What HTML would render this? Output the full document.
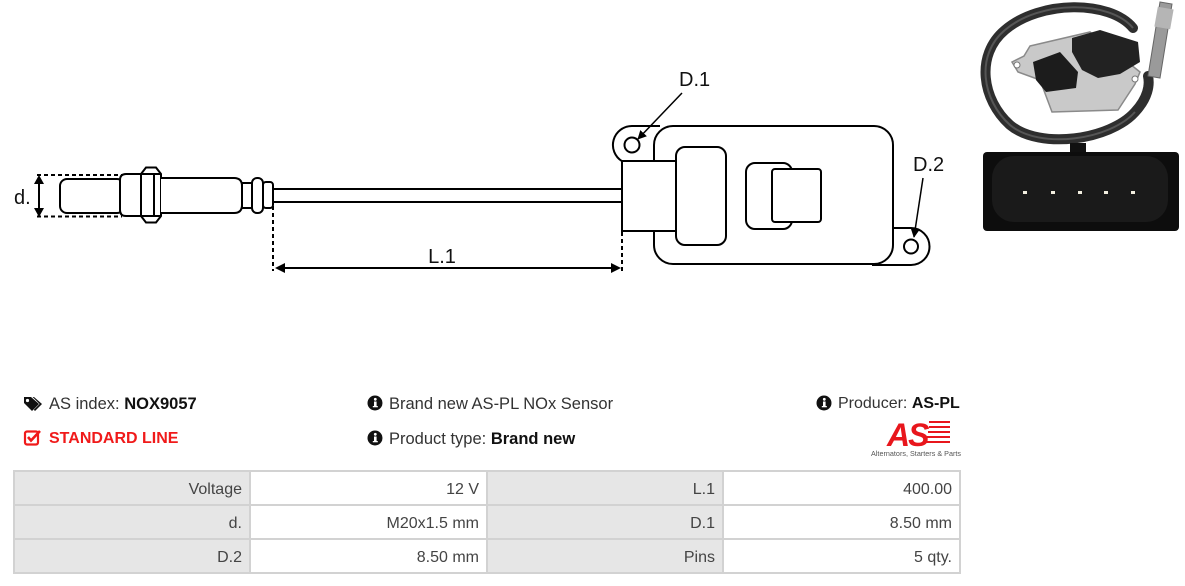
<!DOCTYPE html>
<html>
<head>
<meta charset="utf-8">
<style>
  html,body{margin:0;padding:0;background:#fff;}
  body{width:1185px;height:586px;position:relative;overflow:hidden;font-family:"Liberation Sans",Arial,sans-serif;}
  .t{position:absolute;font-size:16.5px;line-height:20px;color:#333;white-space:nowrap;}
  .t b{color:#111;}
  .cell{position:absolute;height:32px;line-height:35px;font-size:16px;color:#444;text-align:right;box-sizing:border-box;padding-right:7px;}
  .g{background:#e6e6e6;}
  .w{background:#fff;}
</style>
</head>
<body>
<svg width="1185" height="360" style="position:absolute;left:0;top:0" xmlns="http://www.w3.org/2000/svg">
  <defs>
    <marker id="ah" viewBox="0 0 10 10" refX="9" refY="5" markerWidth="9" markerHeight="9" markerUnits="userSpaceOnUse" orient="auto">
      <path d="M0 0 L10 5 L0 10 z" fill="#000"/>
    </marker>
  </defs>
  <g fill="none" stroke="#000" stroke-width="2">
    <path d="M37 175 H122 M37 216.5 H122" stroke-dasharray="4 3"/>
    <line x1="39" y1="177" x2="39" y2="215"/>
    <path d="M39 175 L34 184 L44 184 Z M39 217 L34 208 L44 208 Z" fill="#000" stroke="none"/>
    <rect x="60" y="179" width="64" height="34" rx="7" fill="#fff"/>
    <path d="M141 174 H126 Q120 174 120 180 V210 Q120 216 126 216 H141" fill="#fff"/>
    <path d="M141 174 L146 167.5 H156 L161 174 V216 L156 222.5 H146 L141 216 Z" fill="#fff"/>
    <path d="M141 174 H161 M141 216 H161 M154 174 V216"/>
    <path d="M161 178 H234 Q242 178 242 186 V205 Q242 213 234 213 H161" fill="#fff"/>
    <rect x="242" y="183" width="10" height="25" fill="#fff"/>
    <rect x="252" y="178" width="11" height="35" rx="5" fill="#fff"/>
    <rect x="263" y="182" width="10" height="26" rx="3" fill="#fff"/>
    <path d="M273 189 H622 M273 202 H622"/>
    <path d="M273 206 V271 M622 232 V271" stroke-dasharray="4 3"/>
    <line x1="284" y1="268" x2="612" y2="268"/>
    <path d="M275 268 L285 263 L285 273 Z M621 268 L611 263 L611 273 Z" fill="#000" stroke="none"/>
    <rect x="654" y="126" width="239" height="138" rx="19" fill="#fff"/>
    <path d="M660 126 H632 A19 19 0 0 0 622 161.2" fill="none"/>
    <path d="M893 228 H911 A18.5 18.5 0 0 1 911 265 H872" fill="none"/>
    <circle cx="632" cy="145" r="7.5" fill="#fff"/>
    <circle cx="911" cy="246.5" r="7" fill="#fff"/>
    <rect x="622" y="161" width="56" height="70" fill="#fff"/>
    <rect x="676" y="147" width="50" height="98" rx="9" fill="#fff"/>
    <rect x="746" y="163" width="46" height="66" rx="9" fill="#fff"/>
    <rect x="772" y="169" width="49" height="53" rx="3" fill="#fff"/>
    <line x1="682" y1="93" x2="638" y2="139" stroke-width="1.5" marker-end="url(#ah)"/>
    <line x1="923" y1="178" x2="914" y2="237" stroke-width="1.5" marker-end="url(#ah)"/>
  </g>
  <g font-family="Liberation Sans, Arial, sans-serif" font-size="20" fill="#111">
    <text x="14" y="204">d.</text>
    <text x="442" y="263" text-anchor="middle">L.1</text>
    <text x="679" y="86">D.1</text>
    <text x="913" y="171">D.2</text>
  </g>

  <!-- top photo -->
  <g>
    <path d="M1133 28 C1110 0 1040 0 1005 30 C975 55 982 100 1010 125 C1040 150 1110 140 1135 112 C1148 98 1150 85 1148 76" fill="none" stroke="#2e2e2e" stroke-width="10" stroke-linecap="round"/>
    <path d="M1133 28 C1110 0 1040 0 1005 30 C975 55 982 100 1010 125 C1040 150 1110 140 1135 112" fill="none" stroke="#555" stroke-width="2"/>
    <path d="M1030 46 L1090 32 L1125 60 L1140 72 L1135 84 L1118 110 L1052 112 L1040 80 L1018 72 L1012 62 L1024 56 Z" fill="#c9c9c9" stroke="#8a8a8a" stroke-width="1.5"/>
    <circle cx="1017" cy="65" r="3" fill="#fff" stroke="#777"/>
    <circle cx="1135" cy="79" r="3" fill="#fff" stroke="#777"/>
    <path d="M1033 62 L1060 52 L1078 72 L1076 88 L1046 92 L1036 80 Z" fill="#1c1c1c"/>
    <path d="M1072 38 L1100 30 L1138 42 L1140 62 L1120 74 L1098 78 L1082 70 L1072 52 Z" fill="#222"/>
    <path d="M1160 2 L1172 4 L1160 78 L1148 76 Z" fill="#9a9a9a" stroke="#666" stroke-width="1"/>
    <rect x="1156" y="8" width="16" height="20" fill="#b5b5b5" transform="rotate(10 1164 18)"/>
  </g>
  <!-- connector photo -->
  <g>
    <rect x="1070" y="143" width="16" height="12" fill="#111"/>
    <rect x="983" y="152" width="196" height="79" rx="4" fill="#0d0d0d"/>
    <rect x="992" y="156" width="176" height="66" rx="22" fill="#1a1a1a"/>
    <g fill="#f2eee0">
      <rect x="1023" y="191" width="4" height="3"/>
      <rect x="1051" y="191" width="4" height="3"/>
      <rect x="1078" y="191" width="4" height="3"/>
      <rect x="1104" y="191" width="4" height="3"/>
      <rect x="1131" y="191" width="4" height="3"/>
    </g>
  </g>
</svg>

<svg width="1185" height="75" style="position:absolute;left:0;top:392" xmlns="http://www.w3.org/2000/svg">
  <path d="M24 5 H31 L39 12 L32 19 L24 11 Z" fill="#111"/>
  <circle cx="27.5" cy="8.5" r="1.6" fill="#fff"/>
  <path d="M34 5 L42 12 L35 19 L33.8 17.8 L39.6 12 L32.6 5 Z" fill="#111"/>
  <rect x="25" y="39.5" width="13" height="13" rx="2" fill="none" stroke="#f01a1a" stroke-width="2.2"/>
  <path d="M28 45 L31 48.5 L40 39" fill="none" stroke="#f01a1a" stroke-width="2.6"/>
  <g>
    <circle cx="375" cy="11" r="7.5" fill="#111"/>
    <circle cx="375" cy="46" r="7.5" fill="#111"/>
    <circle cx="824" cy="11" r="7.5" fill="#111"/>
  </g>
  <g fill="#fff">
    <circle cx="375.3" cy="7.3" r="1.4"/><rect x="374" y="9.5" width="2.6" height="5.5"/><rect x="372.8" y="14" width="5" height="1.3"/>
    <circle cx="375.3" cy="42.3" r="1.4"/><rect x="374" y="44.5" width="2.6" height="5.5"/><rect x="372.8" y="49" width="5" height="1.3"/>
    <circle cx="824.3" cy="7.3" r="1.4"/><rect x="823" y="9.5" width="2.6" height="5.5"/><rect x="821.8" y="14" width="5" height="1.3"/>
  </g>
  <text x="887" y="54" font-family="Liberation Sans, Arial, sans-serif" font-size="32" font-weight="bold" font-style="italic" fill="#e8161c" letter-spacing="-2">AS</text>
  <g stroke="#e8161c" stroke-width="2">
    <path d="M929 30 H950 M929 35 H950 M928 40 H950 M927 45 H950 M926 50 H950"/>
  </g>
  <text x="871" y="64" font-family="Liberation Sans, Arial, sans-serif" font-size="7.2" fill="#555" textLength="90">Alternators, Starters &amp; Parts</text>
</svg>

<div class="t" style="left:49px;top:394px;">AS index: <b>NOX9057</b></div>
<div class="t" style="left:49px;top:429px;color:#f01a1a;font-weight:bold;font-size:16px;">STANDARD LINE</div>
<div class="t" style="left:389px;top:394px;">Brand new AS-PL NOx Sensor</div>
<div class="t" style="left:389px;top:429px;">Product type: <b>Brand new</b></div>
<div class="t" style="left:838px;top:394px;font-size:16px;">Producer: <b>AS-PL</b></div>

<div style="position:absolute;left:13px;top:470px;width:948px;height:104px;background:#d2d2d2;"></div>
<div class="cell g" style="left:15px;top:472px;width:234px;">Voltage</div>
<div class="cell w" style="left:251px;top:472px;width:235px;">12 V</div>
<div class="cell g" style="left:488px;top:472px;width:234px;">L.1</div>
<div class="cell w" style="left:724px;top:472px;width:235px;">400.00</div>

<div class="cell g" style="left:15px;top:506px;width:234px;">d.</div>
<div class="cell w" style="left:251px;top:506px;width:235px;">M20x1.5 mm</div>
<div class="cell g" style="left:488px;top:506px;width:234px;">D.1</div>
<div class="cell w" style="left:724px;top:506px;width:235px;">8.50 mm</div>

<div class="cell g" style="left:15px;top:540px;width:234px;">D.2</div>
<div class="cell w" style="left:251px;top:540px;width:235px;">8.50 mm</div>
<div class="cell g" style="left:488px;top:540px;width:234px;">Pins</div>
<div class="cell w" style="left:724px;top:540px;width:235px;">5 qty.</div>
</body>
</html>
